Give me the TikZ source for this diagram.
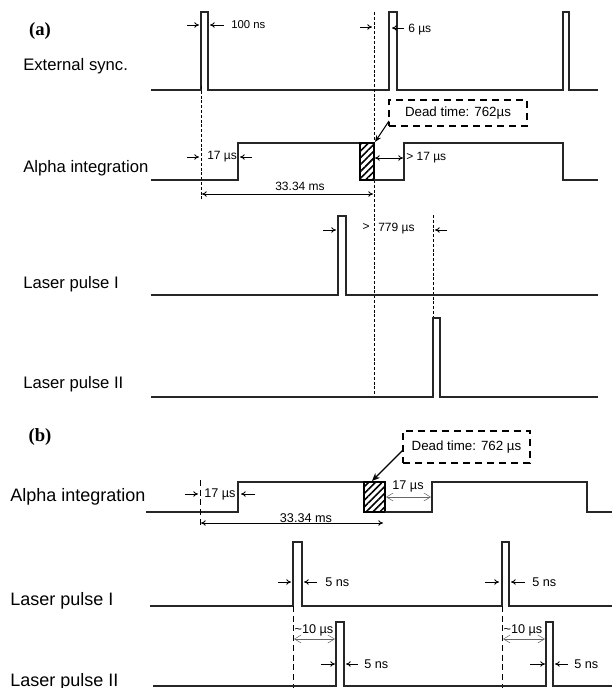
\documentclass[tikz,border=0pt]{standalone}
\usepackage{fontspec}
\setmainfont{Liberation Sans}
\newfontfamily\serifb{Liberation Serif}
\usetikzlibrary{arrows.meta,patterns.meta}
\begin{document}
\begin{tikzpicture}[x=0.75pt,y=-0.75pt,
  sig/.style={line width=0.9pt,draw=black!85,line join=miter},
  vdash/.style={line width=0.75pt,draw=black,dash pattern=on 2.2pt off 1.4pt},
  vdashb/.style={line width=0.75pt,draw=black,dash pattern=on 4.5pt off 2.8pt},
  darr/.style={line width=0.6pt,-{To[length=3.5pt,width=4pt]}},
  ddarr/.style={line width=0.6pt,{To[length=3.5pt,width=4pt]}-{To[length=3.5pt,width=4pt]}},
  garr/.style={line width=0.4pt,draw=black!60,{Straight Barb[length=5pt,width=6pt]}-{Straight Barb[length=5pt,width=6pt]}},
  hatchbox/.style={draw=black,line width=0.9pt,pattern={Lines[angle=45,distance=3.6pt,line width=1.2pt]}},
  deadbox/.style={draw=black,line width=1.3pt,dash pattern=on 5.5pt off 3.5pt},
  biglbl/.style={inner sep=0pt,anchor=base west,font=\fontsize{12.5}{14}\selectfont},
  biglblb/.style={inner sep=0pt,anchor=base west,font=\fontsize{13.5}{15}\selectfont},
  small/.style={inner sep=0pt,font=\fontsize{9}{10}\selectfont},
  panel/.style={inner sep=0pt,font=\serifb\bfseries\fontsize{14}{16}\selectfont}
]
\useasboundingbox (0,0) rectangle (612,688);

%% ---------------- (a) ----------------
\node[panel] (pa) at (40,31) {(a)};
\node[biglbl] (lext) at (23,71) {External sync.};
\node[biglbl] (lalphaa) at (23,172) {Alpha integration};
\node[biglbl] (llp1a) at (23,288) {Laser pulse I};
\node[biglbl] (llp2a) at (23,388) {Laser pulse II};

% external sync
\draw[sig] (151,90) -- (201,90) -- (201,12) -- (208,12) -- (208,90) -- (389,90) -- (389,12) -- (397,12) -- (397,90)
  -- (563,90) -- (563,12) -- (569,12) -- (569,90) -- (598,90);

% vertical dashed markers
\draw[vdash] (201,86) -- (201,200);
\draw[vdash] (374,12) -- (374,398);
\draw[vdash] (433,215) -- (433,398);

% 100 ns
\draw[darr] (187,25) -- (199,25);
\draw[darr] (224,25) -- (210,25);
\node[small,anchor=west,font=\fontsize{8.5}{10}\selectfont] (t100) at (231,25) {100 ns};
% 6 us
\draw[darr] (360,27) -- (372,27);
\draw[darr] (404,28) -- (392,28);
\node[small,anchor=west] (t6) at (408,30) {6 µs};

% alpha integration (a)
\draw[sig] (151,180) -- (238,180) -- (238,143) -- (360,143);
\draw[hatchbox] (360,143) rectangle (374,180);
\draw[sig] (374,180) -- (404,180) -- (404,143) -- (563,143) -- (563,180) -- (598,180);
\draw[darr] (187,157) -- (199,157);
\node[small,anchor=west] (t17a) at (207,157) {17 µs};
\draw[darr] (252,157) -- (240,157);
\draw[ddarr] (202,194) -- (373,194);
\node[small] (t3334a) at (300,186) {33.34 ms};
\draw[ddarr] (375,158) -- (403,158);
\node[small,anchor=west] (tg17) at (406,158) {> 17 µs};
\node[deadbox,minimum width=138*0.75pt,minimum height=26*0.75pt,inner sep=0pt,
  font=\fontsize{10}{12}\selectfont] (deada) at (458,113) {Dead time: 762µs};
\draw[line width=0.8pt,-{Stealth[length=5pt,width=4pt]}] (389,121) -- (375,142);

% laser pulse I (a)
\draw[sig] (151,295) -- (338,295) -- (338,216) -- (346,216) -- (346,295) -- (598,295);
\draw[darr] (323,230) -- (336,230);
\node[small] (tgt) at (366,227) {>};
\node[small,anchor=west] (t779) at (378,229) {779 µs};
\draw[darr] (447,230) -- (435,230);

% laser pulse II (a)
\draw[sig] (151,397) -- (433,397) -- (433,318) -- (440,318) -- (440,397) -- (598,397);

%% ---------------- (b) ----------------
\node[panel] (pb) at (40,437) {(b)};
\node[biglblb] (lalphab) at (10,501) {Alpha integration};
\node[biglblb] (llp1b) at (10,605) {Laser pulse I};
\node[biglblb] (llp2b) at (10,686) {Laser pulse II};

% alpha integration (b)
\draw[sig] (146,512) -- (238,512) -- (238,482) -- (364,482);
\draw[hatchbox] (364,482) rectangle (385,512);
\draw[sig] (385,512) -- (432,512) -- (432,482) -- (587,482) -- (587,512) -- (612,512);
\draw[vdashb] (200,480) -- (200,528);
\draw[darr] (185,494) -- (198,494);
\node[small,anchor=west,font=\fontsize{9.5}{11}\selectfont] (t17b) at (204,494) {17 µs};
\draw[darr] (255,494) -- (241,494);
\draw[ddarr] (201,523) -- (383,523);
\node[small,anchor=base,font=\fontsize{9.5}{11}\selectfont] (t3334b) at (306,522) {33.34 ms};
\node[deadbox,minimum width=127*0.75pt,minimum height=32*0.75pt,inner sep=0pt,
  font=\fontsize{10}{12}\selectfont] (deadb) at (466.5,447) {Dead time: 762 µs};
\draw[line width=0.9pt,-{Stealth[length=6pt,width=5pt]}] (403,450) -- (372,481);
\draw[garr] (386,497) -- (431,497);
\node[small,font=\fontsize{9.5}{11}\selectfont] (t17c) at (408,486) {17 µs};

% laser pulse I (b)
\draw[sig] (150,606) -- (293,606) -- (293,542) -- (302,542) -- (302,606) -- (502,606) -- (502,542) -- (509,542) -- (509,606) -- (612,606);
\draw[darr] (278,582) -- (291,582);
\draw[darr] (317,582) -- (304,582);
\node[small,anchor=west,font=\fontsize{9.5}{11}\selectfont] (t5a) at (325,582) {5 ns};
\draw[darr] (485,582) -- (499,582);
\draw[darr] (525,582) -- (511,582);
\node[small,anchor=west,font=\fontsize{9.5}{11}\selectfont] (t5b) at (532,582) {5 ns};

% dashed (b)
\draw[vdashb] (293,606) -- (293,688);
\draw[vdashb] (502,606) -- (502,688);

% laser pulse II (b)
\draw[sig] (153,686) -- (336,686) -- (336,622) -- (344,622) -- (344,686) -- (546,686) -- (546,622) -- (553,622) -- (553,686) -- (612,686);
\draw[garr] (294,639) -- (335,639);
\node[small,font=\fontsize{9.5}{11}\selectfont] (t10a) at (314,630) {\textasciitilde10 µs};
\draw[garr] (503,639) -- (545,639);
\node[small,font=\fontsize{9.5}{11}\selectfont] (t10b) at (523,630) {\textasciitilde10 µs};
\draw[darr] (321,664) -- (335,664);
\draw[darr] (358,664) -- (346,664);
\node[small,anchor=west,font=\fontsize{9.5}{11}\selectfont] (t5c) at (364,664) {5 ns};
\draw[darr] (530,664) -- (545,664);
\draw[darr] (568,664) -- (555,664);
\node[small,anchor=west,font=\fontsize{9.5}{11}\selectfont] (t5d) at (574,664) {5 ns};
\end{tikzpicture}
\end{document}
